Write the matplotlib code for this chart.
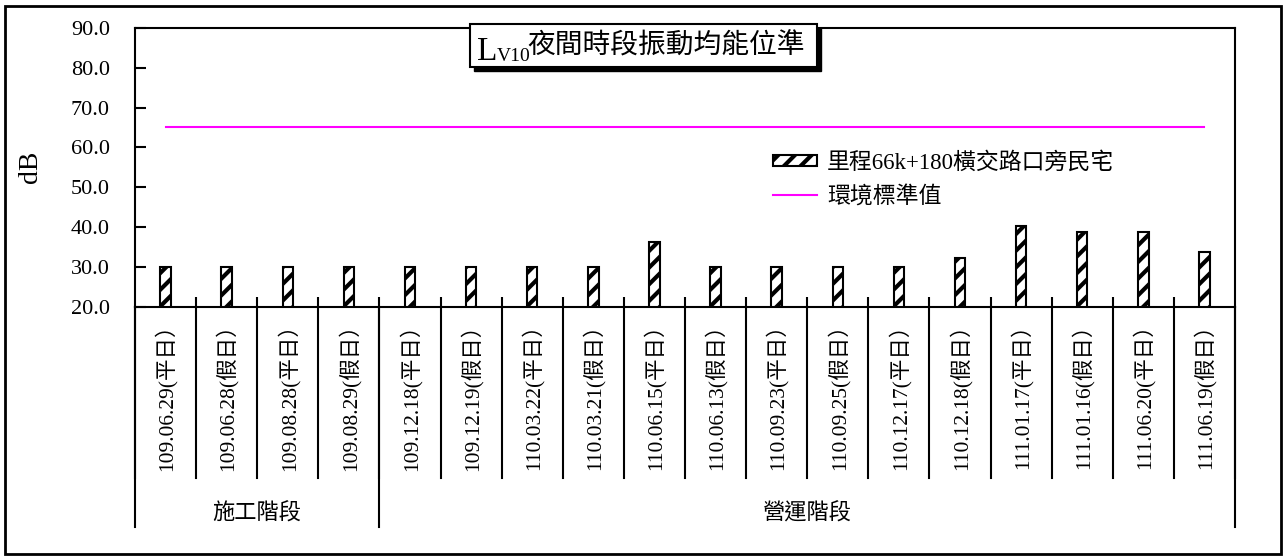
import matplotlib
matplotlib.use('Agg')
import matplotlib.pyplot as plt
from matplotlib import patches
import numpy as np

# data
dates = ['109.06.29(平日）', '109.06.28(假日）', '109.08.28(平日）', '109.08.29(假日）',
         '109.12.18(平日）', '109.12.19(假日）', '110.03.22(平日）', '110.03.21(假日）',
         '110.06.15(平日）', '110.06.13(假日）', '110.09.23(平日）', '110.09.25(假日）',
         '110.12.17(平日）', '110.12.18(假日）', '111.01.17(平日）', '111.01.16(假日）',
         '111.06.20(平日）', '111.06.19(假日）']
lv10 = [30.0, 30.0, 30.0, 30.0, 30.0, 30.0, 30.0, 30.0, 36.1,
        30.0, 30.0, 30.0, 30.0, 32.1, 40.3, 38.8, 38.8, 33.8]
standard = [65.0] * len(dates)
groups = ['施工階段', '營運階段']
group_bounds = [0, 4, 18]

series_name = '里程66k+180橫交路口旁民宅'
standard_name = '環境標準值'

W, H = 1283, 556
FONT = ['Liberation Serif', 'Noto Sans CJK TC']
plt.rcParams['font.family'] = FONT
plt.rcParams['hatch.linewidth'] = 3.0


def fx(px):
    return px / W


def fy(py):
    return 1 - py / H


fig = plt.figure(figsize=(W / 100, H / 100), dpi=100)
ax = fig.add_axes([fx(135), fy(306.5), fx(1235) - fx(135), fy(28) - fy(306.5)])

x = np.arange(len(dates))
bars = ax.bar(x, np.array(lv10) - 20, bottom=20, width=0.17, color='white',
              edgecolor='black', linewidth=1.5, hatch='//', label=series_name, zorder=3)
line, = ax.plot(x, standard, color='#FF00FF', linewidth=1.5, label=standard_name, zorder=2)

ax.set_xlim(-0.5, len(dates) - 0.5)
ax.set_ylim(20, 90)
ax.set_yticks(np.arange(20, 91, 10))
ax.set_yticklabels(['%.1f' % v for v in np.arange(20, 91, 10)])
ax.tick_params(axis='y', direction='in', length=8, width=1.5, pad=18, labelsize=16)
ax.set_ylabel('dB', fontsize=20, labelpad=20)

ax.set_xticks(x)
ax.set_xticklabels(dates, rotation=90, fontsize=15.5)
ax.tick_params(axis='x', length=0, pad=5)
ax.set_xticks(np.arange(-0.5, len(dates), 1)[1:-1], minor=True)
ax.tick_params(axis='x', which='minor', direction='in', length=7, width=1.5)

for sp in ax.spines.values():
    sp.set_linewidth(1.5)

# table-like separators under the axis
tr = ax.get_xaxis_transform()
for b in np.arange(-0.5, len(dates), 1):
    ax.plot([b, b], [0, -0.616], color='black', lw=1.5, transform=tr, clip_on=False)
for g in group_bounds:
    ax.plot([g - 0.5, g - 0.5], [0, -0.792], color='black', lw=1.5, transform=tr, clip_on=False)
for name, a, b in zip(groups, group_bounds[:-1], group_bounds[1:]):
    ax.text((a + b) / 2 - 0.5, -0.745, name, transform=tr, ha='center', va='center',
            fontsize=16, family=FONT)

# legend
ax.legend(handles=[bars, line], loc='upper left', frameon=False, fontsize=16.5,
          bbox_to_anchor=(fx(773), fy(152)), bbox_transform=fig.transFigure,
          borderpad=0, borderaxespad=0, handlelength=1.9, handleheight=0.35,
          handletextpad=0.45, labelspacing=0.5)

# title box with shadow
fig.patches.append(patches.Rectangle((fx(474), fy(71)), fx(347), fy(0) - fy(43),
                                     transform=fig.transFigure, facecolor='black',
                                     edgecolor='black', zorder=5))
fig.patches.append(patches.Rectangle((fx(470), fy(67)), fx(347), fy(0) - fy(43),
                                     transform=fig.transFigure, facecolor='white',
                                     edgecolor='black', linewidth=1.5, zorder=6))
fig.text(fx(477), fy(60), 'L', fontsize=24, family='Liberation Serif', ha='left',
         va='baseline', zorder=7)
fig.text(fx(497), fy(61), 'V10', fontsize=14, family='Liberation Serif', ha='left',
         va='baseline', zorder=7)
fig.text(fx(527), fy(46), '夜間時段振動均能位準', fontsize=20, family=FONT, ha='left',
         va='center', zorder=7)

# outer frame
fig.patches.append(patches.Rectangle((fx(5), fy(554)), fx(1276), fy(6) - fy(554),
                                     transform=fig.transFigure, fill=False,
                                     edgecolor='black', linewidth=2))

fig.savefig('out.png', dpi=100)
